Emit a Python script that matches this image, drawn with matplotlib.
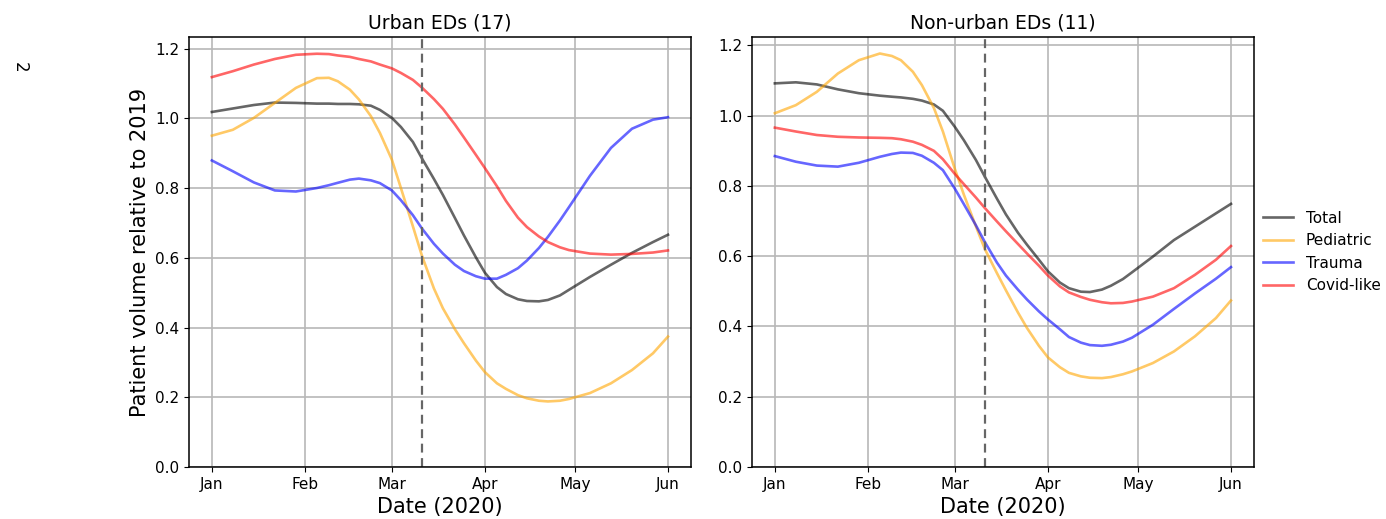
import numpy as np
import matplotlib.pyplot as plt
import matplotlib.dates as mdates

# days since 2020-01-01 where the curves were read
days = [0, 7, 14, 21, 28, 35, 39, 42, 46, 49, 53, 56, 60, 63, 67, 70, 74, 77,
        81, 84, 88, 91, 95, 98, 102, 105, 109, 112, 116, 119, 126, 133, 140,
        147, 152]
dates = np.datetime64('2020-01-01') + np.array(days).astype('timedelta64[D]')

# Urban EDs (17)
urban_total = [1.018, 1.028, 1.038, 1.045, 1.044, 1.042, 1.042, 1.041, 1.041,
               1.040, 1.036, 1.024, 1.001, 0.975, 0.932, 0.885, 0.826, 0.780,
               0.714, 0.664, 0.601, 0.557, 0.516, 0.496, 0.481, 0.476, 0.475,
               0.479, 0.492, 0.508, 0.545, 0.580, 0.614, 0.645, 0.666]
urban_pediatric = [0.950, 0.967, 1.001, 1.044, 1.087, 1.115, 1.116, 1.106, 1.082,
                   1.054, 1.006, 0.958, 0.881, 0.800, 0.690, 0.606, 0.512, 0.455,
                   0.395, 0.355, 0.305, 0.272, 0.240, 0.224, 0.206, 0.197, 0.190,
                   0.188, 0.190, 0.195, 0.212, 0.240, 0.278, 0.326, 0.374]
urban_trauma = [0.879, 0.848, 0.816, 0.793, 0.790, 0.800, 0.808, 0.815, 0.824,
                0.827, 0.822, 0.814, 0.793, 0.765, 0.722, 0.684, 0.640, 0.612,
                0.580, 0.562, 0.547, 0.540, 0.540, 0.551, 0.570, 0.592, 0.628,
                0.660, 0.707, 0.745, 0.835, 0.915, 0.970, 0.996, 1.003]
urban_covid = [1.118, 1.135, 1.154, 1.170, 1.182, 1.185, 1.184, 1.180, 1.176,
               1.170, 1.163, 1.154, 1.143, 1.130, 1.110, 1.088, 1.055, 1.027,
               0.982, 0.945, 0.895, 0.857, 0.805, 0.763, 0.715, 0.688, 0.661,
               0.645, 0.630, 0.622, 0.612, 0.609, 0.611, 0.615, 0.621]

# Non-urban EDs (11)
rural_total = [1.092, 1.095, 1.089, 1.075, 1.064, 1.057, 1.054, 1.052, 1.048,
               1.043, 1.032, 1.014, 0.968, 0.930, 0.874, 0.826, 0.764, 0.719,
               0.667, 0.633, 0.590, 0.557, 0.525, 0.509, 0.499, 0.498, 0.505,
               0.516, 0.535, 0.554, 0.599, 0.646, 0.684, 0.722, 0.749]
rural_pediatric = [1.007, 1.030, 1.068, 1.120, 1.158, 1.177, 1.170, 1.158, 1.125,
                   1.087, 1.022, 0.955, 0.848, 0.775, 0.685, 0.620, 0.552, 0.503,
                   0.440, 0.396, 0.345, 0.312, 0.284, 0.268, 0.258, 0.254, 0.253,
                   0.256, 0.264, 0.272, 0.296, 0.329, 0.372, 0.424, 0.474]
rural_trauma = [0.885, 0.869, 0.858, 0.855, 0.866, 0.883, 0.891, 0.895, 0.894,
                0.886, 0.866, 0.845, 0.792, 0.748, 0.688, 0.640, 0.582, 0.545,
                0.505, 0.477, 0.443, 0.420, 0.392, 0.370, 0.354, 0.347, 0.345,
                0.348, 0.357, 0.368, 0.405, 0.450, 0.494, 0.536, 0.569]
rural_covid = [0.966, 0.955, 0.945, 0.940, 0.938, 0.937, 0.936, 0.933, 0.926,
               0.917, 0.900, 0.876, 0.834, 0.805, 0.767, 0.737, 0.699, 0.671,
               0.635, 0.608, 0.573, 0.545, 0.514, 0.497, 0.484, 0.476, 0.469,
               0.466, 0.467, 0.471, 0.485, 0.509, 0.547, 0.590, 0.629]

labels = ['Total', 'Pediatric', 'Trauma', 'Covid-like']
colors = ['black', 'orange', 'blue', 'red']
panels = [('Urban EDs (17)', [urban_total, urban_pediatric, urban_trauma, urban_covid], 1.233),
          ('Non-urban EDs (11)', [rural_total, rural_pediatric, rural_trauma, rural_covid], 1.224)]
pandemic_day = np.datetime64('2020-03-11')

fig = plt.figure(figsize=(13.86, 5.19), dpi=100)
axes = [fig.add_axes([0.1364, 0.1002, 0.362, 0.8285]),
        fig.add_axes([0.5426, 0.1002, 0.362, 0.8285])]

for ax, (title, series, ytop) in zip(axes, panels):
    for vals, lab, c in zip(series, labels, colors):
        ax.plot(dates, vals, color=c, alpha=0.6, lw=1.9, label=lab,
                solid_joinstyle='round')
    ax.axvline(pandemic_day, color='#666666', ls='--', lw=1.6, dashes=(4, 2.5))
    ax.set_ylim(0, ytop)
    ax.set_yticks([0.0, 0.2, 0.4, 0.6, 0.8, 1.0, 1.2])
    ax.xaxis.set_major_locator(mdates.MonthLocator())
    ax.xaxis.set_major_formatter(mdates.DateFormatter('%b'))
    ax.grid(True, color='#b8b8b8', lw=1.2)
    ax.set_axisbelow(True)
    ax.tick_params(labelsize=11)
    ax.set_title(title, fontsize=13.5)
    ax.set_xlabel('Date (2020)', fontsize=15)
    for sp in ax.spines.values():
        sp.set_linewidth(1.1)

axes[0].set_ylabel('Patient volume relative to 2019', fontsize=15)
axes[1].legend(loc='center left', bbox_to_anchor=(1.0, 0.5), frameon=False,
               fontsize=11, borderaxespad=0.2)

fig.text(0.0145, 0.871, '2', rotation=-90, fontsize=12, ha='center', va='center')

fig.savefig('out.png', dpi=100)
